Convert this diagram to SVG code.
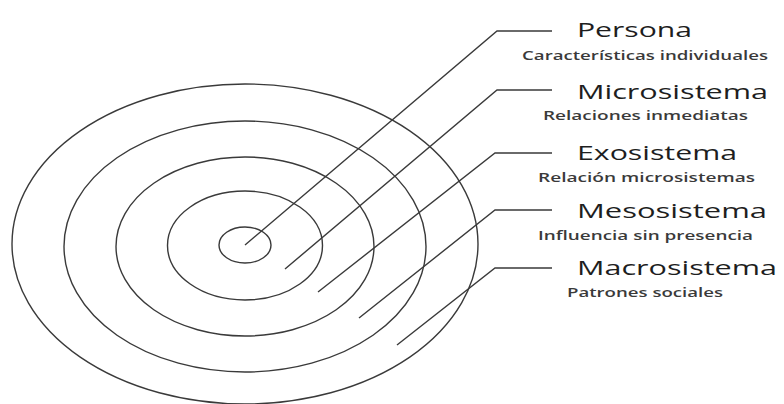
<svg xmlns="http://www.w3.org/2000/svg" width="784" height="404" viewBox="0 0 784 404">
<style>
.ring{fill:none;stroke:#3a3a3a;stroke-width:1.4}
.conn{fill:none;stroke:#3a3a3a;stroke-width:1.4}
.title{font-family:"Open Sans","Noto Sans","Liberation Sans",sans-serif;font-size:20px;fill:#1e1e1e}
.sub{font-family:"Open Sans","Noto Sans","Liberation Sans",sans-serif;font-size:12px;font-weight:600;fill:#3a3a3a}
</style>
<rect width="784" height="404" fill="#ffffff"/>
<g id="rings">
<ellipse class="ring" cx="245" cy="244" rx="233" ry="160"/>
<ellipse class="ring" cx="245" cy="246.5" rx="181" ry="125.5"/>
<ellipse class="ring" cx="245" cy="246.5" rx="129" ry="89.5"/>
<ellipse class="ring" cx="245" cy="245.5" rx="77.5" ry="54.5"/>
<ellipse class="ring" cx="245" cy="245" rx="26" ry="18"/>
</g>
<g id="connectors">
<polyline class="conn" points="245,245 497,31 552,31"/>
<polyline class="conn" points="285,269 497,90 552,90"/>
<polyline class="conn" points="318,292 495,153 552,153"/>
<polyline class="conn" points="359,318 495,210 552,210"/>
<polyline class="conn" points="397,345 495,268 552,268"/>
</g>
<g id="persona">
<text class="title" x="577" y="37" textLength="115" lengthAdjust="spacingAndGlyphs">Persona</text>
<text class="sub" x="522" y="60" textLength="246" lengthAdjust="spacingAndGlyphs">Características individuales</text>
</g>
<g id="microsistema">
<text class="title" x="577" y="99" textLength="191" lengthAdjust="spacingAndGlyphs">Microsistema</text>
<text class="sub" x="543" y="120" textLength="205" lengthAdjust="spacingAndGlyphs">Relaciones inmediatas</text>
</g>
<g id="exosistema">
<text class="title" x="577" y="160" textLength="160" lengthAdjust="spacingAndGlyphs">Exosistema</text>
<text class="sub" x="538" y="182" textLength="217" lengthAdjust="spacingAndGlyphs">Relación microsistemas</text>
</g>
<g id="mesosistema">
<text class="title" x="577" y="218" textLength="190" lengthAdjust="spacingAndGlyphs">Mesosistema</text>
<text class="sub" x="538" y="240" textLength="215" lengthAdjust="spacingAndGlyphs">Influencia sin presencia</text>
</g>
<g id="macrosistema">
<text class="title" x="577" y="275" textLength="200" lengthAdjust="spacingAndGlyphs">Macrosistema</text>
<text class="sub" x="567" y="297" textLength="156" lengthAdjust="spacingAndGlyphs">Patrones sociales</text>
</g>
</svg>
